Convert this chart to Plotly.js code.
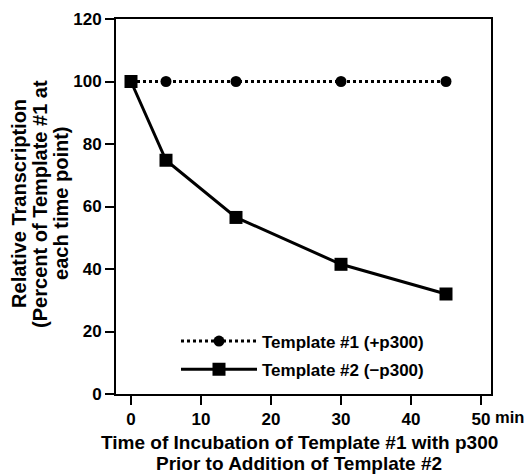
<!DOCTYPE html>
<html>
<head>
<meta charset="utf-8">
<script src="https://cdn.plot.ly/plotly-3.0.1.min.js"></script>
<style>html,body{margin:0;padding:0;background:#fff;}#chart{width:527px;height:475px;}</style>
</head>
<body>
<div id="chart"></div>
<script>
const timeMin = [0, 5, 15, 30, 45];
const template1 = [100, 100, 100, 100, 100];
const template2 = [100, 74.8, 56.5, 41.5, 32];
const seriesNames = ["Template #1 (+p300)", "Template #2 (\u2212p300)"];
const xTickVals = [0, 10, 20, 30, 40, 50];
const xTickText = ["0", "10", "20", "30", "40", "50"];
const yTickVals = [0, 20, 40, 60, 80, 100, 120];
const yTitleLines = ["Relative Transcription", "(Percent of Template #1 at", "each time point)"];
const xTitleLines = ["Time of Incubation of Template #1 with p300", "Prior to Addition of Template #2"];

const FAM = "Liberation Sans, Arial, Helvetica, sans-serif";
const traces = [
  {x: timeMin, y: template1, name: seriesNames[0], legendgroup: "g1", type: "scatter", mode: "lines+markers",
   line: {color: "#000", width: 3, dash: "dot"},
   marker: {symbol: "circle", size: 11, color: "#000"}},
  {x: timeMin, y: template2, name: seriesNames[1], legendgroup: "g2", type: "scatter", mode: "lines+markers",
   line: {color: "#000", width: 3},
   marker: {symbol: "square", size: 13, color: "#000"}}
];

const ann = [];
yTitleLines.forEach((t, i) => {
  const px = [19, 40, 61][i];
  ann.push({text: t, xref: "paper", yref: "paper", x: (px - 116) / 375, y: 0.507,
    xanchor: "center", yanchor: "middle", textangle: -90, showarrow: false,
    font: {family: FAM, size: 20, color: "#000", weight: "bold"}});
});
xTitleLines.forEach((t, i) => {
  const py = [442, 463.5][i];
  ann.push({text: t, xref: "paper", yref: "paper", x: (299 - 116) / 375, y: (394 - py) / 375,
    xanchor: "center", yanchor: "middle", showarrow: false, borderpad: 0,
    font: {family: FAM, size: 19, color: "#000", weight: "bold"}});
});
ann.push({text: "min", xref: "x", yref: "paper", x: 50, y: (394 - 417) / 375, xshift: 12,
  xanchor: "left", yanchor: "middle", showarrow: false,
  font: {family: FAM, size: 16.5, color: "#000", weight: "bold"}});

const layout = {
  width: 527, height: 475,
  margin: {l: 116, r: 36, t: 19, b: 81, pad: 0},
  paper_bgcolor: "#fff", plot_bgcolor: "#fff",
  showlegend: true,
  legend: {x: (176 - 116) / 375, y: (394 - 355.5) / 375, xanchor: "left", yanchor: "middle",
    bgcolor: "rgba(0,0,0,0)", itemwidth: 76, traceorder: "grouped", tracegroupgap: 3,
    font: {family: FAM, size: 17, color: "#000", weight: "bold"}},
  xaxis: {range: [-15 / 7, 360 / 7], tickvals: xTickVals, ticktext: xTickText,
    showgrid: false, zeroline: false, showline: true, mirror: true, linewidth: 2, linecolor: "#000",
    ticks: "outside", ticklen: 9, tickwidth: 2, tickcolor: "#000",
    tickfont: {family: FAM, size: 17, color: "#000", weight: "bold"}},
  yaxis: {range: [0, 120], tickvals: yTickVals,
    showgrid: false, zeroline: false, showline: true, mirror: true, linewidth: 2, linecolor: "#000",
    ticks: "outside", ticklen: 9, tickwidth: 2, tickcolor: "#000",
    tickfont: {family: FAM, size: 17, color: "#000", weight: "bold"}},
  annotations: ann
};
Plotly.newPlot("chart", traces, layout, {staticPlot: true, displayModeBar: false});
</script>
</body>
</html>
